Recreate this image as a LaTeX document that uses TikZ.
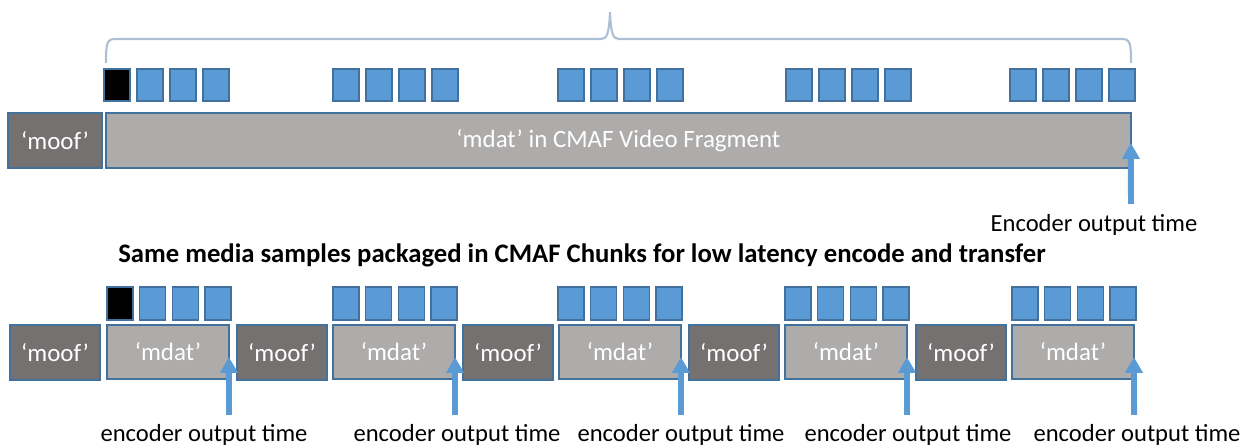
\documentclass[tikz,border=0pt]{standalone}
\usepackage{fontspec}
\setmainfont{Carlito}
\usetikzlibrary{arrows.meta}
\definecolor{sqblue}{HTML}{5B9BD5}
\definecolor{edgeblue}{HTML}{41719C}
\definecolor{moofgray}{HTML}{767171}
\definecolor{mdatgray}{HTML}{AEABAB}
\definecolor{bracecol}{HTML}{ADBFD3}
\begin{document}
\begin{tikzpicture}[x=0.02cm,y=-0.02cm,
  box/.style={draw=edgeblue, line width=0.8pt, inner sep=0pt, outer sep=0pt, anchor=north west, text=white, font=\fontsize{14.2}{16}\selectfont, minimum height=1.1cm},
  moofbox/.style={box, fill=moofgray},
  mdatbox/.style={box, fill=mdatgray},
  sq/.style={draw=edgeblue, line width=0.8pt, fill=sqblue, inner sep=0pt, outer sep=0pt, anchor=north west, minimum width=0.52cm},
  sqk/.style={sq, fill=black},
  arr/.style={draw=sqblue, line width=3.4pt, -{Triangle[width=9.6pt,length=9pt]}},
  lbl/.style={font=\fontsize{14}{16}\selectfont, inner sep=0pt}
]
\useasboundingbox (0,0) rectangle (1250,448);

% brace
\draw[bracecol, line width=1.2pt] (106,63) .. controls (106,42) and (107,39) .. (116,39) -- (601,39)
  .. controls (607,39) and (609,34) .. (610,12) .. controls (611,34) and (613,39) .. (619,39)
  -- (1121,39) .. controls (1130,39) and (1131,42) .. (1131,63);

% top squares
\node[sqk, minimum height=0.64cm] (t10) at (104,69) {};
\foreach \i in {1,2,3} \node[sq, minimum height=0.64cm] (t1\i) at ({104+33*\i},69) {};
\foreach \g/\x in {2/333,3/558,4/786,5/1010}
  \foreach \i in {0,...,3} \node[sq, minimum height=0.64cm] (t\g\i) at ({\x+33*\i},69) {};

% top boxes
\node[moofbox, minimum width=1.88cm] (moofT) at (8,113) {‘moof’};
\node[mdatbox, minimum width=20.5cm] (mdatT) at (106,113) {‘mdat’ in CMAF Video Fragment};
\coordinate (tailT) at (1131,204);
\draw[arr] (tailT) -- ([yshift=-0.05cm]mdatT.east);
\node[lbl] (lblT) at (1094,225) {Encoder output time};

% title
\node[font=\bfseries\fontsize{15.2}{17}\selectfont, inner sep=0pt] (title) at (582,255)
  {Same media samples packaged in CMAF Chunks for low latency encode and transfer};

% bottom squares
\node[sqk, minimum height=0.66cm] (b10) at (107,287) {};
\foreach \i in {1,2,3} \node[sq, minimum height=0.66cm] (b1\i) at ({107+32.7*\i},287) {};
\foreach \g/\x in {2/333,3/558,4/785,5/1012}
  \foreach \i in {0,...,3} \node[sq, minimum height=0.66cm] (b\g\i) at ({\x+32.7*\i},287) {};

% bottom boxes
\foreach \k/\m/\d in {1/10/107, 2/237/333, 3/463/559, 4/689/785, 5/916/1012} {
  \node[moofbox, minimum width=1.8cm] (moof\k) at (\m,325) {‘moof’};
  \node[mdatbox, minimum width=2.44cm, minimum height=1.08cm] (mdat\k) at (\d,325) {‘mdat’};
}
\foreach \k/\d/\c in {1/107/204, 2/333/457, 3/559/681, 4/785/908, 5/1012/1137} {
  \coordinate (tail\k) at ({\d+122},415);
  \draw[arr] (tail\k) -- ([yshift=-0.1cm]mdat\k.east);
  \node[lbl] (lbl\k) at (\c,435) {encoder output time};
}
\end{tikzpicture}
\end{document}
